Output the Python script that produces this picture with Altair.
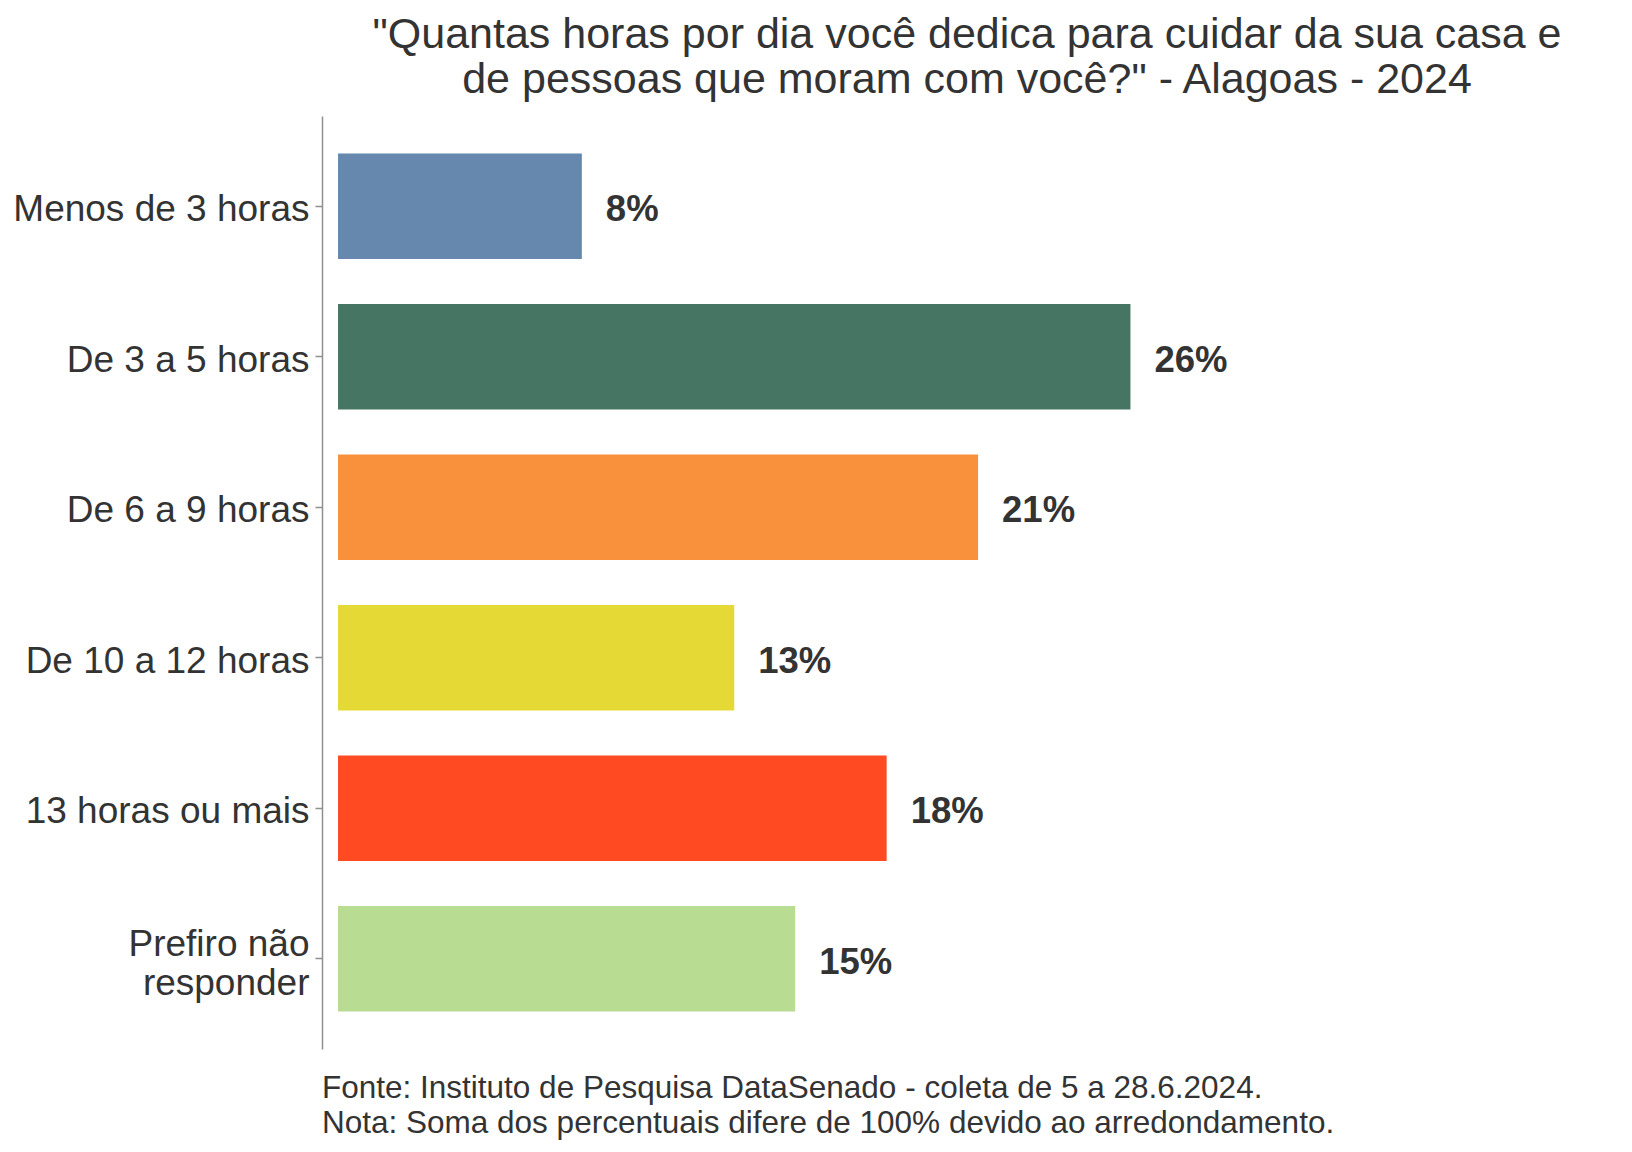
import altair as alt
import pandas as pd

categories = [
    "Menos de 3 horas",
    "De 3 a 5 horas",
    "De 6 a 9 horas",
    "De 10 a 12 horas",
    "13 horas ou mais",
    "Prefiro não responder",
]
values = [8, 26, 21, 13, 18, 15]
labels = ["8%", "26%", "21%", "13%", "18%", "15%"]
colors = ["#6688AE", "#467663", "#F9913C", "#E5D935", "#FF4A22", "#B8DC91"]

title_lines = [
    "\"Quantas horas por dia você dedica para cuidar da sua casa e",
    "de pessoas que moram com você?\" - Alagoas - 2024",
]
caption_lines = [
    "Fonte: Instituto de Pesquisa DataSenado - coleta de 5 a 28.6.2024.",
    "Nota: Soma dos percentuais difere de 100% devido ao arredondamento.",
]

df = pd.DataFrame({"cat": categories, "val": values, "lab": labels})

FONT = "Liberation Sans"
TXT = "#333333"
W, H = 1290, 933

y_enc = alt.Y(
    "cat:N",
    sort=categories,
    scale=alt.Scale(paddingInner=0.3, paddingOuter=0.25),
    axis=alt.Axis(
        title=None,
        labelFont=FONT,
        labelFontSize=37,
        labelColor=TXT,
        labelPadding=6,
        labelLimit=400,
        labelLineHeight=39,
        labelExpr="datum.label == 'Prefiro não responder' ? ['Prefiro não', 'responder'] : datum.label",
        labelOffset={
            "condition": {"test": "datum.value == 'Prefiro não responder'", "value": -14},
            "value": 4,
        },
        domainColor="#8f8f8f",
        domainWidth=1.5,
        tickColor="#8f8f8f",
        tickWidth=1.5,
        tickSize=7,
        grid=False,
    ),
)
x_scale = alt.Scale(domain=[-0.526, 41.8], nice=False, zero=False)

bars = alt.Chart(df).mark_bar().encode(
    x=alt.X("val:Q", scale=x_scale, axis=None),
    x2=alt.datum(0),
    y=y_enc,
    color=alt.Color("cat:N", scale=alt.Scale(domain=categories, range=colors), legend=None),
)

text = alt.Chart(df).mark_text(
    align="left", baseline="middle", dx=24, dy=4, font=FONT, fontSize=36.5,
    fontWeight="bold", color=TXT,
).encode(
    x=alt.X("val:Q", scale=x_scale, axis=None),
    y=alt.Y("cat:N", sort=categories),
    text="lab:N",
)

cap_df = pd.DataFrame({"t": caption_lines})
cap1 = alt.Chart(cap_df.iloc[[0]]).mark_text(
    align="left", baseline="middle", font=FONT, fontSize=31.5, color=TXT
).encode(x=alt.value(0), y=alt.value(H + 40), text="t:N")
cap2 = alt.Chart(cap_df.iloc[[1]]).mark_text(
    align="left", baseline="middle", font=FONT, fontSize=31.5, color=TXT
).encode(x=alt.value(0), y=alt.value(H + 75), text="t:N")

chart = alt.layer(bars, text, cap1, cap2).properties(
    width=W,
    height=H,
    autosize=alt.AutoSizeParams(type="none"),
    padding={"left": 314, "top": 108, "right": 12, "bottom": 95},
    title=alt.TitleParams(
        text=title_lines,
        font=FONT,
        fontSize=43,
        fontWeight="normal",
        color=TXT,
        anchor="middle",
        lineHeight=45,
        offset=14,
    ),
).configure(
    background="white",
    view=alt.ViewConfig(strokeOpacity=0, strokeWidth=0),
)

chart.save("out.html", embed_options={"renderer": "svg", "actions": False})
